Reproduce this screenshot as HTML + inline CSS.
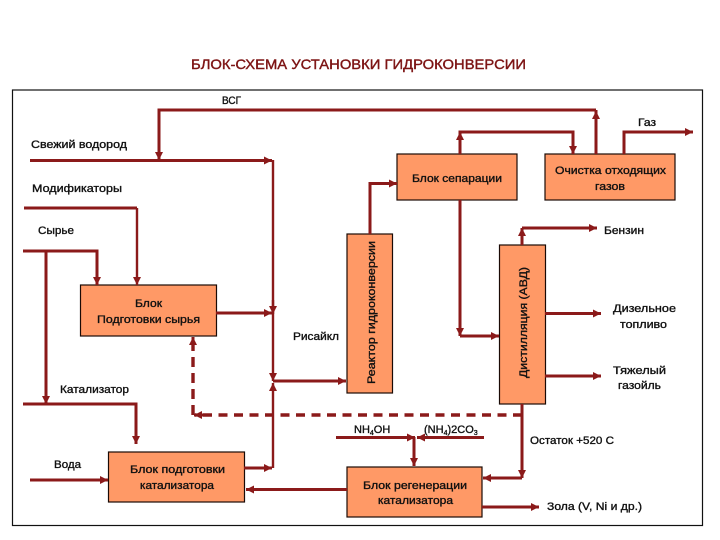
<!DOCTYPE html>
<html lang="ru">
<head>
<meta charset="utf-8">
<title>Блок-схема установки гидроконверсии</title>
<style>
html,body{margin:0;padding:0;background:#fff;width:720px;height:540px;overflow:hidden}
svg{display:block}
text{font-family:"Liberation Sans",sans-serif;font-size:11px;fill:#111;font-weight:normal;stroke:#111;stroke-width:.35}
.b{fill:#ff9966;stroke:#1a0a05;stroke-width:1.2}
.l{fill:none;stroke:#8b1a1a;stroke-width:3}
.t{stroke-width:2.4}
</style>
</head>
<body>
<svg width="720" height="540" viewBox="0 0 720 540" xmlns="http://www.w3.org/2000/svg">
<defs>
<marker id="a" markerUnits="userSpaceOnUse" markerWidth="10" markerHeight="10" refX="8" refY="5" orient="auto"><path d="M0,1 L8,5 L0,9 Z" fill="#8b1a1a"/></marker>
</defs>
<text x="358.5" y="69" text-anchor="middle" textLength="335" lengthAdjust="spacingAndGlyphs" style="font-size:14px;fill:#7d1414;stroke:#7d1414;stroke-width:.4">БЛОК-СХЕМА УСТАНОВКИ ГИДРОКОНВЕРСИИ</text>
<rect x="12.5" y="90" width="690" height="435.500" fill="#fff" stroke="#111" stroke-width="1.200"/>

<!-- boxes -->
<rect class="b" x="397" y="154" width="120" height="46"/>
<rect class="b" x="545" y="154" width="130" height="46"/>
<rect class="b" x="347" y="234" width="45.500" height="159"/>
<rect class="b" x="499.500" y="245" width="46" height="159"/>
<rect class="b" x="80.500" y="285" width="136" height="51"/>
<rect class="b" x="108.500" y="452" width="136" height="50"/>
<rect class="b" x="347" y="467" width="135" height="50"/>

<!-- connectors -->
<path class="l" d="M596,154 V110 M596,110 H159 V118" />
<path class="l" d="M596,126 V111" marker-end="url(#a)"/>
<path class="l" d="M159,110 V160" marker-end="url(#a)"/>
<path class="l" d="M30,160.500 H272" marker-end="url(#a)"/>
<path class="l t" d="M273,160 V314" marker-end="url(#a)"/>
<path class="l" d="M24,208 H137"/>
<path class="l t" d="M137,208 V285" marker-end="url(#a)"/>
<path class="l" d="M23,251 H97 V285" marker-end="url(#a)"/>
<path class="l" d="M46,251 V404" marker-end="url(#a)"/>
<path class="l" d="M23,404 H136 V444" marker-end="url(#a)"/>
<path class="l" d="M30,480 H108" marker-end="url(#a)"/>
<path class="l" d="M216,313 H272" marker-end="url(#a)"/>
<path class="l t" d="M273,300 V381" marker-end="url(#a)"/>
<path class="l" d="M244,468 H272" marker-end="url(#a)"/>
<path class="l t" d="M273,468 V383" marker-end="url(#a)"/>
<path class="l" d="M273,381 H346" marker-end="url(#a)"/>
<path class="l" d="M522,415 H195" stroke-dasharray="9,6.500" style="stroke-width:3.400"/>
<path class="l" d="M205,415 H194" marker-end="url(#a)"/>
<path class="l" d="M193,415 V338" stroke-dasharray="10,6" style="stroke-width:3.400"/>
<path class="l" d="M193,350 V337" marker-end="url(#a)"/>
<path class="l" d="M370,234 V183.500 H397" marker-end="url(#a)"/>
<path class="l" d="M460,154 V132 H573 V154" marker-end="url(#a)"/>
<path class="l" d="M460,154 V132" marker-end="url(#a)"/>
<path class="l" d="M624,154 V132 H693" marker-end="url(#a)"/>
<path class="l" d="M522,245 V228" marker-end="url(#a)"/>
<path class="l" d="M522,228 H597" marker-end="url(#a)"/>
<path class="l" d="M460,200 V336" marker-end="url(#a)"/>
<path class="l" d="M460,336 H499" marker-end="url(#a)"/>
<path class="l" d="M545,313.500 H601" marker-end="url(#a)"/>
<path class="l" d="M545,376 H601" marker-end="url(#a)"/>
<path class="l" d="M522,404 V478" marker-end="url(#a)"/>
<path class="l" d="M522,478 H483" marker-end="url(#a)"/>
<path class="l" d="M336,437.500 H415" marker-end="url(#a)"/>
<path class="l" d="M484,437.500 H417" marker-end="url(#a)"/>
<path class="l" d="M414,437 V466" marker-end="url(#a)"/>
<path class="l" d="M347,489.500 H246" marker-end="url(#a)"/>
<path class="l" d="M482,507 H539" marker-end="url(#a)"/>

<!-- labels -->
<text x="222" y="104" textLength="19" lengthAdjust="spacingAndGlyphs">ВСГ</text>
<text x="638" y="126" textLength="18" lengthAdjust="spacingAndGlyphs">Газ</text>
<text x="31" y="148" textLength="96" lengthAdjust="spacingAndGlyphs">Свежий водород</text>
<text x="32" y="192" textLength="90" lengthAdjust="spacingAndGlyphs">Модификаторы</text>
<text x="38" y="234" textLength="36" lengthAdjust="spacingAndGlyphs">Сырье</text>
<text x="412" y="182" textLength="90" lengthAdjust="spacingAndGlyphs">Блок сепарации</text>
<text x="555" y="174" textLength="111" lengthAdjust="spacingAndGlyphs">Очистка отходящих</text>
<text x="595" y="190" textLength="30" lengthAdjust="spacingAndGlyphs">газов</text>
<text x="604" y="234" textLength="40" lengthAdjust="spacingAndGlyphs">Бензин</text>
<text x="135" y="307" textLength="27" lengthAdjust="spacingAndGlyphs">Блок</text>
<text x="97" y="323" textLength="103" lengthAdjust="spacingAndGlyphs">Подготовки сырья</text>
<text x="293" y="340" textLength="46" lengthAdjust="spacingAndGlyphs">Рисайкл</text>
<text x="60" y="393" textLength="69" lengthAdjust="spacingAndGlyphs">Катализатор</text>
<text x="54" y="468" textLength="27" lengthAdjust="spacingAndGlyphs">Вода</text>
<text x="130" y="473" textLength="95" lengthAdjust="spacingAndGlyphs">Блок подготовки</text>
<text x="140" y="489" textLength="74" lengthAdjust="spacingAndGlyphs">катализатора</text>
<text x="363" y="489" textLength="104" lengthAdjust="spacingAndGlyphs">Блок регенерации</text>
<text x="378" y="504" textLength="75" lengthAdjust="spacingAndGlyphs">катализатора</text>
<text x="613" y="312" textLength="63" lengthAdjust="spacingAndGlyphs">Дизельное</text>
<text x="620" y="328" textLength="47" lengthAdjust="spacingAndGlyphs">топливо</text>
<text x="613" y="374" textLength="53" lengthAdjust="spacingAndGlyphs">Тяжелый</text>
<text x="618" y="389" textLength="43" lengthAdjust="spacingAndGlyphs">газойль</text>
<text x="530" y="444" textLength="84" lengthAdjust="spacingAndGlyphs">Остаток +520 С</text>
<text x="547" y="510" textLength="95" lengthAdjust="spacingAndGlyphs">Зола (V, Ni и др.)</text>
<text x="354" y="433">NH<tspan dy="2" style="font-size:7px">4</tspan><tspan dy="-2">OH</tspan></text>
<text x="424" y="433">(NH<tspan dy="2" style="font-size:7px">4</tspan><tspan dy="-2">)2CO</tspan><tspan dy="2" style="font-size:7px">3</tspan></text>
<text transform="translate(375,384) rotate(-90)" textLength="143" lengthAdjust="spacingAndGlyphs">Реактор гидроконверсии</text>
<text transform="translate(527,378) rotate(-90)" textLength="111" lengthAdjust="spacingAndGlyphs">Дистилляция (АВД)</text>
</svg>
</body>
</html>
